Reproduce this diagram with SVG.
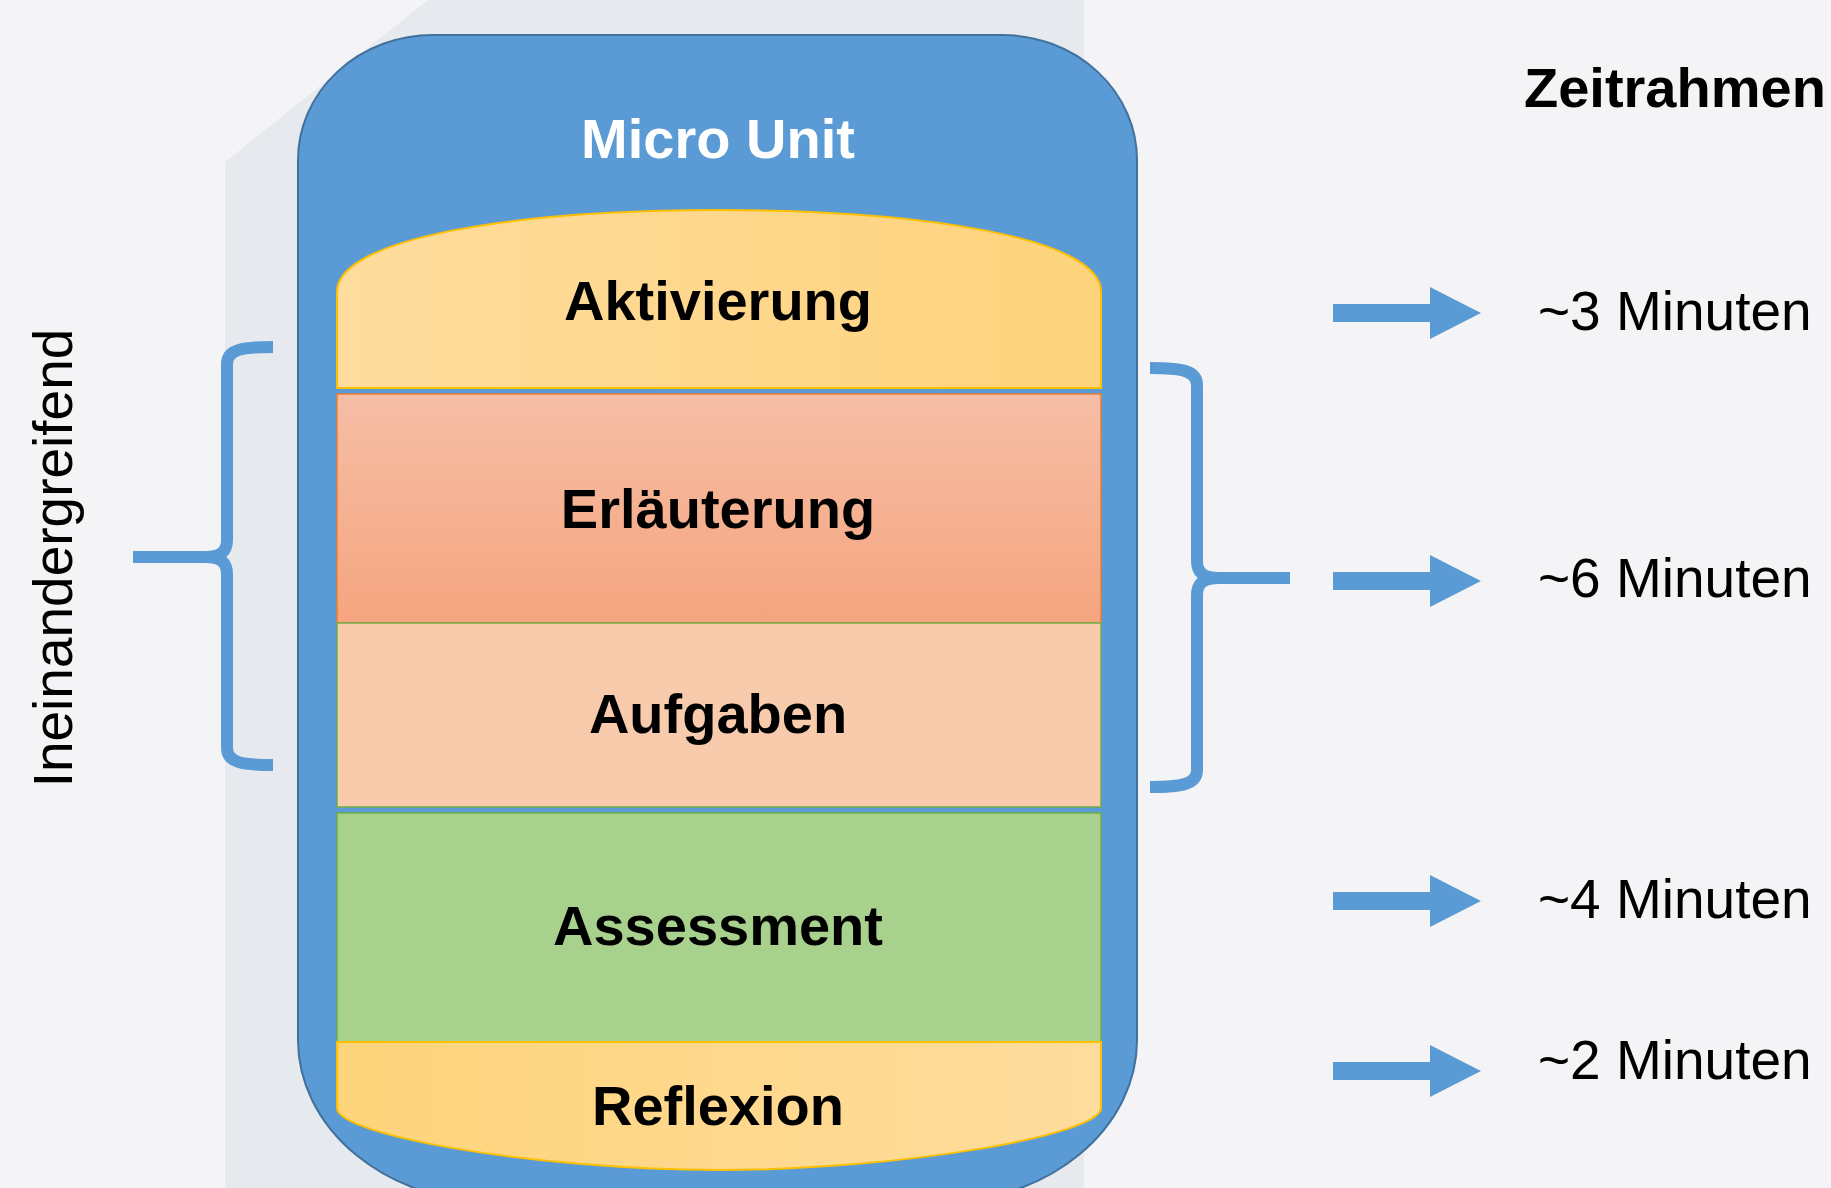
<svg xmlns="http://www.w3.org/2000/svg" width="1831" height="1188" viewBox="0 0 1831 1188">
  <defs>
    <linearGradient id="gAkt" x1="0" y1="0" x2="1" y2="0">
      <stop offset="0" stop-color="#fedc9d"/>
      <stop offset="1" stop-color="#fed37c"/>
    </linearGradient>
    <linearGradient id="gRef" x1="0" y1="0" x2="1" y2="0">
      <stop offset="0" stop-color="#fed47b"/>
      <stop offset="1" stop-color="#fedc9d"/>
    </linearGradient>
    <linearGradient id="gErl" x1="0" y1="0" x2="0" y2="1">
      <stop offset="0" stop-color="#f6bea6"/>
      <stop offset="1" stop-color="#f5a57f"/>
    </linearGradient>
  </defs>
  <style>
    .lbl { font-family: "Liberation Sans", Arial, sans-serif; font-weight: bold; font-size: 56px; fill: #000; text-anchor: middle; }
    .time { font-family: "Liberation Sans", Arial, sans-serif; font-size: 55px; fill: #000; }
    .brace { fill: none; stroke: #5b9bd5; stroke-width: 12; stroke-linecap: butt; stroke-linejoin: round; }
    .arrow { fill: #5b9bd5; }
  </style>

  <rect x="0" y="0" width="1831" height="1188" fill="#f4f4f6"/>
  <polygon points="428,0 1084,0 1084,1188 225,1188 225,162" fill="#e6e9ee"/>

  <g id="micro-unit">
    <path d="M433,35 H1002 A135,125 0 0 1 1137,160 V1040 A200,163 0 0 1 937,1203 H498 A200,163 0 0 1 298,1040 V160 A135,125 0 0 1 433,35 Z" fill="#5b9bd5" stroke="#41719c" stroke-width="2"/>
    <text class="lbl" x="718" y="158" style="fill:#fff">Micro Unit</text>
  </g>

  <g id="aktivierung">
    <path d="M337,388 V292 C337,237 520,210 719,210 C918,210 1101,237 1101,292 V388 Z" fill="url(#gAkt)" stroke="#ffc000" stroke-width="2"/>
    <text class="lbl" x="718" y="320">Aktivierung</text>
  </g>

  <g id="erlaeuterung">
    <rect x="337" y="394" width="764" height="229" fill="url(#gErl)" stroke="#ed7d31" stroke-width="1.5"/>
    <text class="lbl" x="718" y="528">Erläuterung</text>
  </g>

  <g id="aufgaben">
    <rect x="337" y="623" width="764" height="184" fill="#f8cbad" stroke="#70ad47" stroke-width="1.5"/>
    <text class="lbl" x="718" y="733">Aufgaben</text>
  </g>

  <g id="assessment">
    <rect x="337" y="813" width="764" height="229" fill="#a9d18e" stroke="#70ad47" stroke-width="1.5"/>
    <text class="lbl" x="718" y="945">Assessment</text>
  </g>

  <g id="reflexion">
    <path d="M337,1042 H1101 V1108 C1101,1135 900,1170 719,1170 C536,1170 337,1135 337,1108 Z" fill="url(#gRef)" stroke="#ffc000" stroke-width="2"/>
    <text class="lbl" x="718" y="1125">Reflexion</text>
  </g>

  <g id="label-ineinandergreifend">
    <text class="time" transform="translate(72,558) rotate(-90)" text-anchor="middle">Ineinandergreifend</text>
  </g>

  <g id="label-zeitrahmen">
    <text class="lbl" x="1524" y="107" style="text-anchor:start">Zeitrahmen</text>
  </g>

  <g id="time-3"><text class="time" x="1538" y="330">~3 Minuten</text></g>
  <g id="time-6"><text class="time" x="1538" y="597">~6 Minuten</text></g>
  <g id="time-4"><text class="time" x="1538" y="918">~4 Minuten</text></g>
  <g id="time-2"><text class="time" x="1538" y="1079">~2 Minuten</text></g>

  <g id="connectors">
    <path class="brace" d="M273,347 C243,347 227,349 227,364 V540 C227,552 220,557 205,557 H133 M205,557 C220,557 227,562 227,574 V748 C227,763 243,765 273,765"/>
    <path class="brace" d="M1150,368 C1180,368 1197,370 1197,385 V561 C1197,573 1204,578 1219,578 H1290 M1219,578 C1204,578 1197,583 1197,595 V770 C1197,785 1180,787 1150,787"/>
    <polygon class="arrow" points="1333,304 1430,304 1430,287 1481,313 1430,339 1430,322 1333,322"/>
    <polygon class="arrow" points="1333,572 1430,572 1430,555 1481,581 1430,607 1430,590 1333,590"/>
    <polygon class="arrow" points="1333,892 1430,892 1430,875 1481,901 1430,927 1430,910 1333,910"/>
    <polygon class="arrow" points="1333,1062 1430,1062 1430,1045 1481,1071 1430,1097 1430,1080 1333,1080"/>
  </g>
</svg>
